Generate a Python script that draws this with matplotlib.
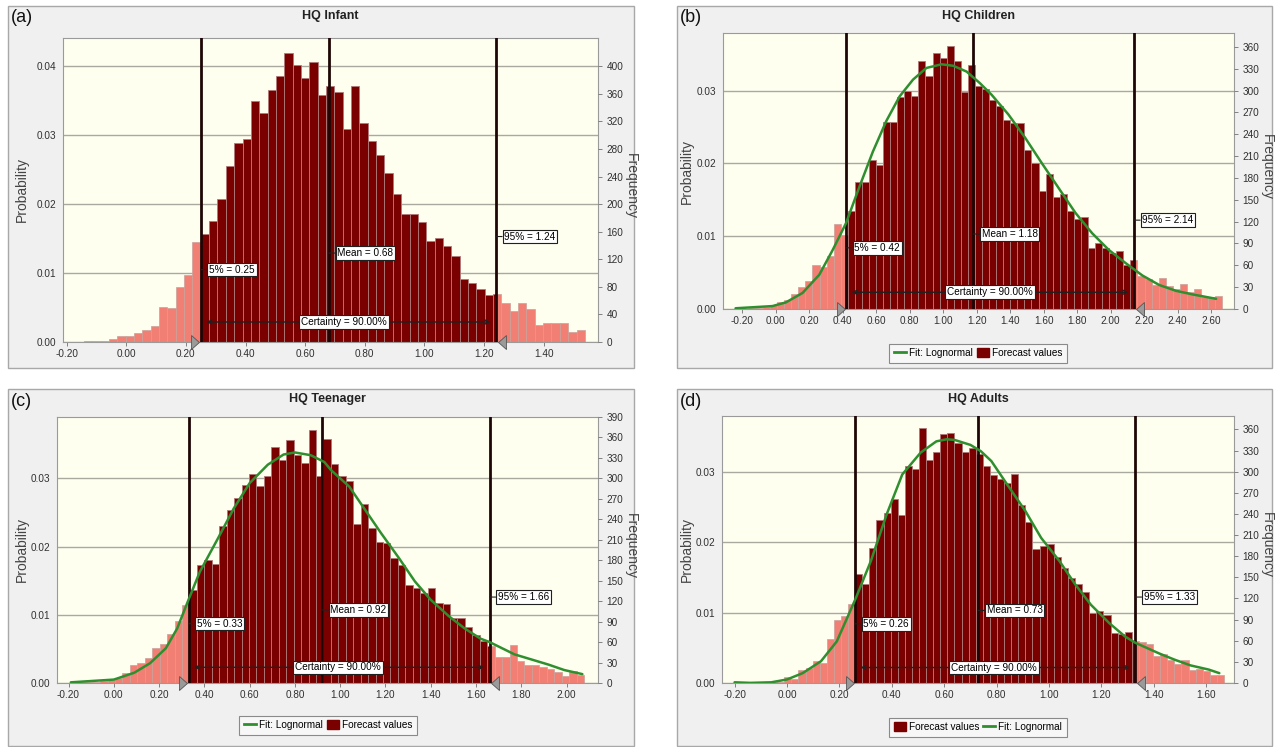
import matplotlib
matplotlib.use("Agg")
import numpy as np
import matplotlib.pyplot as plt
from matplotlib.patches import Rectangle, Patch
from matplotlib.lines import Line2D
from matplotlib.transforms import ScaledTranslation
from matplotlib.ticker import FuncFormatter
from matplotlib import font_manager

# ---------------------------------------------------------------- data
# HQ Infant
a_x0, a_width = -0.142, 0.028
a_prob = [0.0001, 0.0001, 0.0002, 0.0005, 0.0008, 0.0009, 0.0013, 0.0018, 0.0023, 0.0051,
          0.0049, 0.0080, 0.0097, 0.0145, 0.0157, 0.0176, 0.0208, 0.0256, 0.0288, 0.0294,
          0.0350, 0.0332, 0.0365, 0.0386, 0.0419, 0.0402, 0.0383, 0.0406, 0.0358, 0.0372,
          0.0362, 0.0309, 0.0372, 0.0318, 0.0291, 0.0271, 0.0245, 0.0214, 0.0186, 0.0185,
          0.0174, 0.0147, 0.0151, 0.0139, 0.0125, 0.0092, 0.0086, 0.0077, 0.0068, 0.0069,
          0.0056, 0.0045, 0.0057, 0.0048, 0.0025, 0.0028, 0.0027, 0.0028, 0.0014, 0.0018]
a_p5, a_mean, a_p95 = 0.25, 0.68, 1.24

# HQ Children
b_x0, b_width = -0.245, 0.0422
b_prob = [0.0001, 0.00005, 0.0001, 0.0002, 0.0003, 0.0005, 0.0009, 0.0012, 0.0020, 0.0030,
          0.0038, 0.0061, 0.0058, 0.0073, 0.0117, 0.0101, 0.0134, 0.0175, 0.0175, 0.0204,
          0.0198, 0.0257, 0.0257, 0.0291, 0.0300, 0.0293, 0.0341, 0.0320, 0.0352, 0.0344,
          0.0361, 0.0340, 0.0298, 0.0335, 0.0306, 0.0302, 0.0287, 0.0279, 0.0259, 0.0255,
          0.0256, 0.0219, 0.0200, 0.0162, 0.0186, 0.0154, 0.0158, 0.0134, 0.0124, 0.0127,
          0.0084, 0.0091, 0.0084, 0.0077, 0.0080, 0.0061, 0.0067, 0.0046, 0.0041, 0.0033,
          0.0043, 0.0031, 0.0027, 0.0035, 0.0024, 0.0027, 0.0017, 0.0016, 0.0018]
b_p5, b_mean, b_p95 = 0.42, 1.18, 2.14
b_fit_x = [-0.24, -0.02, 0.06, 0.16, 0.26, 0.34, 0.42, 0.50, 0.58, 0.66, 0.74, 0.82, 0.90,
           0.99, 1.06, 1.14, 1.22, 1.29, 1.39, 1.49, 1.59, 1.69, 1.79, 1.89, 1.99, 2.09,
           2.19, 2.29, 2.39, 2.49, 2.63]
b_fit_y = [0.0001, 0.0004, 0.0009, 0.0022, 0.0047, 0.0081, 0.0118, 0.0168, 0.0216, 0.0258,
           0.0292, 0.0315, 0.0331, 0.0336, 0.0334, 0.0326, 0.0310, 0.0294, 0.0267, 0.0235,
           0.0200, 0.0166, 0.0132, 0.0104, 0.0081, 0.0063, 0.0046, 0.0033, 0.0025, 0.0020,
           0.0014]

# HQ Teenager
c_x0, c_width = -0.192, 0.03289
c_prob = [0.0001, 0.0001, 0.0001, 0.0002, 0.0003, 0.0004, 0.0007, 0.0015, 0.0026, 0.0029,
          0.0037, 0.0051, 0.0057, 0.0072, 0.0091, 0.0115, 0.0136, 0.0173, 0.0180, 0.0174,
          0.0230, 0.0254, 0.0271, 0.0291, 0.0307, 0.0289, 0.0303, 0.0346, 0.0327, 0.0356,
          0.0334, 0.0322, 0.0371, 0.0304, 0.0358, 0.0321, 0.0303, 0.0296, 0.0233, 0.0263,
          0.0227, 0.0206, 0.0205, 0.0184, 0.0173, 0.0144, 0.0139, 0.0132, 0.0139, 0.0117,
          0.0116, 0.0095, 0.0095, 0.0082, 0.0071, 0.0061, 0.0054, 0.0038, 0.0038, 0.0056,
          0.0032, 0.0027, 0.0026, 0.0023, 0.0020, 0.0016, 0.0010, 0.0018, 0.0012]
c_p5, c_mean, c_p95 = 0.33, 0.92, 1.66
c_fit_x = [-0.19, 0.00, 0.09, 0.16, 0.23, 0.28, 0.33, 0.38, 0.46, 0.53, 0.60, 0.68, 0.75,
           0.80, 0.87, 0.93, 0.96, 1.04, 1.11, 1.18, 1.26, 1.33, 1.40, 1.48, 1.55, 1.62,
           1.66, 1.77, 1.85, 1.92, 1.99, 2.07]
c_fit_y = [0.0001, 0.0005, 0.0015, 0.0029, 0.0051, 0.0080, 0.0122, 0.0163, 0.0212, 0.0256,
           0.0293, 0.0320, 0.0335, 0.0338, 0.0334, 0.0324, 0.0312, 0.0288, 0.0254, 0.0220,
           0.0183, 0.0149, 0.0122, 0.0098, 0.0080, 0.0065, 0.0060, 0.0042, 0.0034, 0.0027,
           0.0019, 0.0013]

# HQ Adults
d_x0, d_width = -0.200, 0.02707
d_prob = [0.0001, 0.00005, 0.0001, 0.0001, 0.0001, 0.0002, 0.0002, 0.0008, 0.0005, 0.0018,
          0.0022, 0.0031, 0.0028, 0.0063, 0.0089, 0.0095, 0.0112, 0.0155, 0.0141, 0.0192,
          0.0232, 0.0242, 0.0261, 0.0238, 0.0308, 0.0304, 0.0362, 0.0317, 0.0328, 0.0354,
          0.0355, 0.0341, 0.0328, 0.0334, 0.0325, 0.0308, 0.0295, 0.0290, 0.0284, 0.0297,
          0.0253, 0.0229, 0.0190, 0.0194, 0.0198, 0.0179, 0.0163, 0.0149, 0.0141, 0.0129,
          0.0099, 0.0102, 0.0096, 0.0071, 0.0069, 0.0073, 0.0060, 0.0058, 0.0055, 0.0038,
          0.0041, 0.0033, 0.0027, 0.0032, 0.0018, 0.0020, 0.0017, 0.0012, 0.0011]
d_p5, d_mean, d_p95 = 0.26, 0.73, 1.33
d_fit_x = [-0.20, -0.14, -0.06, 0.00, 0.06, 0.13, 0.19, 0.26, 0.32, 0.38, 0.44, 0.51, 0.57,
           0.61, 0.64, 0.70, 0.74, 0.78, 0.84, 0.91, 0.97, 1.04, 1.10, 1.16, 1.23, 1.29,
           1.33, 1.42, 1.48, 1.54, 1.61, 1.65]
d_fit_y = [0.0001, 0.00002, 0.0001, 0.0005, 0.0014, 0.0031, 0.0059, 0.0118, 0.0173, 0.0239,
           0.0296, 0.0327, 0.0343, 0.0346, 0.0345, 0.0338, 0.0329, 0.0315, 0.0282, 0.0244,
           0.0206, 0.0173, 0.0140, 0.0111, 0.0085, 0.0066, 0.0057, 0.0042, 0.0033, 0.0025,
           0.0019, 0.0014]

TRIALS = 10000
CERTAINTY = "Certainty = 90.00%"

# ---------------------------------------------------------------- style
W, H = 1278, 747
DARK = "#7a0000"
LIGHT = "#f27f73"
EDGE_DARK = "#b58a8a"
EDGE_LIGHT = "#c9a09a"
VLINE = "#1f0606"
FIT = "#2f8f2f"
PLOT_BG = "#fffff0"
FRAME_BG = "#f0f0f0"


def font_available(name):
    try:
        font_manager.findfont(font_manager.FontProperties(family=name),
                              fallback_to_default=False)
        return True
    except Exception:
        return False


if font_available("Liberation Sans Narrow"):
    SMALL_FAMILY, SMALL = ["Liberation Sans Narrow", "DejaVu Sans"], 8.3
else:
    SMALL_FAMILY, SMALL = ["Liberation Sans", "DejaVu Sans"], 7.2
plt.rcParams["font.family"] = ["Liberation Sans", "DejaVu Sans"]


def frac_rect(l, t, r, b):
    return [l / W, 1 - b / H, (r - l) / W, (b - t) / H]


def fx(x):
    return x / W


def fy(y):
    return 1 - y / H


def fmt2(v, _pos=None):
    if abs(v) < 1e-9:
        v = 0.0
    return f"{v:.2f}"


fig = plt.figure(figsize=(W / 100, H / 100), dpi=100)
fig.patch.set_facecolor("white")

panels = [
    dict(tag="(a)", title="HQ Infant", frame=(8, 6, 634, 368), plot=(63, 38, 598, 342),
         x0=a_x0, w=a_width, prob=a_prob, p5=a_p5, mean=a_mean, p95=a_p95,
         fit=None, xlim=(-0.212, 1.582), ytop=0.0441, xmax_tick=1.40,
         lticks=[0.00, 0.01, 0.02, 0.03, 0.04], rticks=list(range(0, 401, 40)),
         tag_y=(0.0105, 0.0129, 0.0153), cert_y=0.0029, cert_x=0.73,
         ylab_x=22, flab_x=631, legend=None),
    dict(tag="(b)", title="HQ Children", frame=(677, 6, 1272, 368), plot=(723, 33, 1234, 309),
         x0=b_x0, w=b_width, prob=b_prob, p5=b_p5, mean=b_mean, p95=b_p95,
         fit=(b_fit_x, b_fit_y), xlim=(-0.315, 2.737), ytop=0.0379, xmax_tick=2.60,
         lticks=[0.00, 0.01, 0.02, 0.03], rticks=list(range(0, 361, 30)),
         tag_y=(0.0084, 0.0103, 0.0122), cert_y=0.0023, cert_x=1.28,
         ylab_x=687, flab_x=1267, legend=("fit", 978, 353)),
    dict(tag="(c)", title="HQ Teenager", frame=(8, 389, 634, 746), plot=(57, 417, 598, 683),
         x0=c_x0, w=c_width, prob=c_prob, p5=c_p5, mean=c_mean, p95=c_p95,
         fit=(c_fit_x, c_fit_y), xlim=(-0.251, 2.139), ytop=0.0390, xmax_tick=2.00,
         lticks=[0.00, 0.01, 0.02, 0.03], rticks=list(range(0, 391, 30)),
         tag_y=(0.0087, 0.0107, 0.0126), cert_y=0.0023, cert_x=0.99,
         ylab_x=22, flab_x=631, legend=("fit", 328, 725)),
    dict(tag="(d)", title="HQ Adults", frame=(677, 389, 1272, 746), plot=(722, 416, 1234, 683),
         x0=d_x0, w=d_width, prob=d_prob, p5=d_p5, mean=d_mean, p95=d_p95,
         fit=(d_fit_x, d_fit_y), xlim=(-0.248, 1.706), ytop=0.0379, xmax_tick=1.60,
         lticks=[0.00, 0.01, 0.02, 0.03], rticks=list(range(0, 361, 30)),
         tag_y=(0.0084, 0.0103, 0.0122), cert_y=0.0022, cert_x=0.79,
         ylab_x=687, flab_x=1267, legend=("bars", 978, 727)),
]

for p in panels:
    l, t, r, b = p["frame"]
    fig.add_artist(Rectangle((l / W, 1 - b / H), (r - l) / W, (b - t) / H,
                             transform=fig.transFigure, fc=FRAME_BG, ec="#a8a8a8",
                             lw=1.0, zorder=-5))

    ax = fig.add_axes(frac_rect(*p["plot"]))
    ax.set_facecolor(PLOT_BG)
    ax.set_xlim(*p["xlim"])
    ax.set_ylim(0, p["ytop"])

    heights = np.asarray(p["prob"])
    edges = p["x0"] + p["w"] * np.arange(len(heights))

    # full histogram in the tail colour
    ax.bar(edges, heights, width=p["w"], align="edge", color=LIGHT,
           edgecolor=EDGE_LIGHT, linewidth=0.5, zorder=2)
    # portion inside the certainty range in the main colour
    left = np.maximum(edges, p["p5"])
    right = np.minimum(edges + p["w"], p["p95"])
    keep = right > left
    ax.bar(left[keep], heights[keep], width=(right - left)[keep], align="edge",
           color=DARK, edgecolor=EDGE_DARK, linewidth=0.5, zorder=2.1)

    for v in (p["p5"], p["mean"], p["p95"]):
        ax.axvline(v, color=VLINE, lw=2.0, zorder=3)

    if p["fit"] is not None:
        ax.plot(p["fit"][0], p["fit"][1], color=FIT, lw=1.8, zorder=4,
                solid_capstyle="round", solid_joinstyle="round")

    # grid and ticks
    ax.set_yticks(p["lticks"])
    ax.yaxis.set_major_formatter(FuncFormatter(fmt2))
    ax.yaxis.grid(True, color="#a9a99f", lw=1.0)
    ax.set_axisbelow(True)
    xt = np.round(np.arange(-0.2, p["xmax_tick"] + 1e-6, 0.2), 2)
    ax.set_xticks(xt)
    ax.xaxis.set_major_formatter(FuncFormatter(fmt2))
    ax.tick_params(axis="x", length=3, width=0.6, color="#707070", pad=2,
                   labelsize=SMALL, labelcolor="#303030")
    ax.tick_params(axis="y", length=0, pad=5, labelsize=SMALL, labelcolor="#303030")
    for lab in ax.get_xticklabels() + ax.get_yticklabels():
        lab.set_family(SMALL_FAMILY)
    for s in ax.spines.values():
        s.set_color("#9a9a9a")
        s.set_linewidth(0.8)

    ax2 = ax.twinx()
    ax2.set_ylim(0, p["ytop"] * TRIALS)
    ax2.set_yticks(p["rticks"])
    ax2.tick_params(axis="y", length=3, width=0.6, color="#707070", pad=3,
                    labelsize=SMALL, labelcolor="#303030")
    for lab in ax2.get_yticklabels():
        lab.set_family(SMALL_FAMILY)
    for s in ax2.spines.values():
        s.set_visible(False)

    # grabber triangles at the certainty limits
    tri_r = [(-0.45, -0.8), (0.45, 0.0), (-0.45, 0.8), (-0.45, -0.8)]
    tri_l = [(0.45, -0.8), (-0.45, 0.0), (0.45, 0.8), (0.45, -0.8)]
    off_l = ax.transData + ScaledTranslation(-4 / 72, 0, fig.dpi_scale_trans)
    off_r = ax.transData + ScaledTranslation(4 / 72, 0, fig.dpi_scale_trans)
    ax.plot([p["p5"]], [0], marker=tri_r, ms=10, mfc="#9a9a9a", mec="#555555",
            mew=0.6, transform=off_l, clip_on=False, zorder=8)
    ax.plot([p["p95"]], [0], marker=tri_l, ms=10, mfc="#9a9a9a", mec="#555555",
            mew=0.6, transform=off_r, clip_on=False, zorder=8)

    # value tags
    box = dict(boxstyle="square,pad=0.18", fc="white", ec="#202020", lw=0.8)
    labels = (f"5% = {p['p5']:.2f}", f"Mean = {p['mean']:.2f}", f"95% = {p['p95']:.2f}")
    for v, yv, txt in zip((p["p5"], p["mean"], p["p95"]), p["tag_y"], labels):
        ax.annotate(txt, xy=(v, yv), xytext=(6, 0), textcoords="offset points",
                    ha="left", va="center", fontsize=SMALL, family=SMALL_FAMILY,
                    bbox=box, zorder=7,
                    arrowprops=dict(arrowstyle="-", color="#202020", lw=0.8,
                                    shrinkA=0, shrinkB=0))

    ax.annotate("", xy=(p["p95"], p["cert_y"]), xytext=(p["p5"], p["cert_y"]),
                arrowprops=dict(arrowstyle="<->", color="#202020", lw=1.0,
                                shrinkA=4, shrinkB=4, mutation_scale=7),
                zorder=6)
    ax.text(p["cert_x"], p["cert_y"], CERTAINTY, ha="center", va="center",
            fontsize=SMALL, family=SMALL_FAMILY, bbox=box, zorder=7)

    # panel texts
    pl, pt, pr, pb = p["plot"]
    fl, ft, fr_, fb = p["frame"]
    fig.text(fx(fl + 3), fy(ft + 12), p["tag"], fontsize=13, ha="left", va="center",
             color="#111111")
    fig.text(fx((pl + pr) / 2), fy(ft + 10), p["title"], fontsize=9, weight="bold",
             ha="center", va="center", color="#222222")
    fig.text(fx(p["ylab_x"]), fy((pt + pb) / 2), "Probability", rotation=90,
             fontsize=10, ha="center", va="center", color="#444444")
    fig.text(fx(p["flab_x"]), fy((pt + pb) / 2 - 4), "Frequency", rotation=-90,
             fontsize=10, ha="center", va="center", color="#444444")

    if p["legend"] is not None:
        kind, lx, ly = p["legend"]
        h_fit = Line2D([], [], color=FIT, lw=2)
        h_bar = Patch(facecolor=DARK, edgecolor=DARK)
        if kind == "fit":
            handles, texts = [h_fit, h_bar], ["Fit: Lognormal", "Forecast values"]
        else:
            handles, texts = [h_bar, h_fit], ["Forecast values", "Fit: Lognormal"]
        leg = ax.legend(handles, texts, loc="center", bbox_to_anchor=(fx(lx), fy(ly)),
                        bbox_transform=fig.transFigure, ncol=2, frameon=True,
                        fancybox=False, edgecolor="#8a8a8a", facecolor="#f7f7f7",
                        framealpha=1.0, handlelength=1.2, handleheight=0.9,
                        handletextpad=0.3, columnspacing=0.4, borderpad=0.45,
                        prop=dict(family=SMALL_FAMILY, size=SMALL))
        leg.get_frame().set_linewidth(0.8)

fig.savefig("out.png", dpi=100, facecolor=fig.get_facecolor())
